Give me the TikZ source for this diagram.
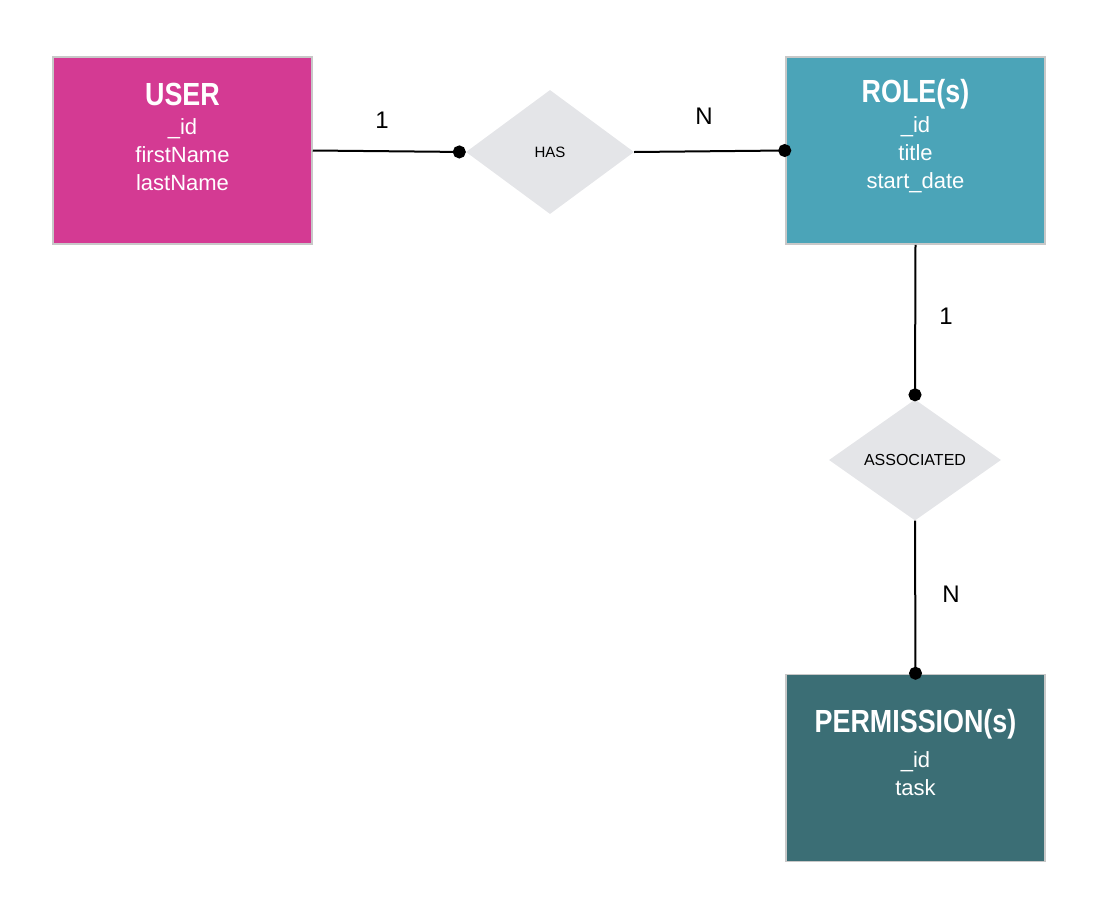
\documentclass[tikz,border=0pt]{standalone}
\usepackage{fontspec}
\setmainfont{Liberation Sans}
\newfontfamily\titlefont[FakeStretch=0.84]{Liberation Sans}
\usetikzlibrary{shapes.geometric,arrows.meta}
\definecolor{userpink}{HTML}{D43A93}
\definecolor{roleteal}{HTML}{4BA4B8}
\definecolor{permteal}{HTML}{3B6E75}
\definecolor{relgray}{HTML}{E4E5E8}
\definecolor{boxline}{HTML}{C8C8C8}
\tikzset{
  entity/.style={rectangle, draw=boxline, line width=1.5pt, minimum width=259pt, minimum height=187pt, inner sep=0pt},
  etitle/.style={text=white, font=\titlefont\fontsize{32}{32}\selectfont\bfseries},
  eattr/.style={text=white, align=center, font=\fontsize{22}{28}\selectfont},
  relation/.style={diamond, fill=relgray, inner sep=0pt, minimum width=168pt, minimum height=124pt},
  card/.style={font=\fontsize{24}{24}\selectfont},
  link/.style={line width=2pt, -{Circle[length=13pt]}}
}
\begin{document}
\begin{tikzpicture}[x=1pt,y=-1pt]
\useasboundingbox (0,0) rectangle (1104,924);
\node[entity, fill=userpink] (user) at (182.5,150.5){};
\node[etitle] (usertitle) at (182.5,94){USER};
\node[eattr] (userattr) at (182.5,155){\_id\\firstName\\lastName};
\node[entity, fill=roleteal] (role) at (915.5,150.5){};
\node[etitle] (roletitle) at (915.5,94){ROLE(s)};
\node[eattr] (roleattr) at (915.5,155){\_id\\title\\start\_date};
\node[entity, fill=permteal] (perm) at (915.5,768){};
\node[etitle] (permtitle) at (915.5,724){PERMISSION(s)};
\node[eattr] (permattr) at (915.5,774){\_id\\task};
\node[relation] (has) at (550,152){\fontsize{15}{15}\selectfont HAS};
\node[relation, minimum width=172pt, minimum height=121pt] (assoc) at (915,460){\fontsize{16}{16}\selectfont ASSOCIATED};
\draw[link](user.east) -- (has.west);
\draw[link, shorten >=-6pt](has.east) -- (role.west);
\draw[link, shorten >=-2pt](role.south) -- (assoc.north);
\draw[link, shorten >=-6pt](assoc.south) -- (perm.north);
\node[card] (c1) at (382,120){1};
\node[card] (c2) at (704,116){N};
\node[card] (c3) at (946,316){1};
\node[card] (c4) at (951,594){N};

\end{tikzpicture}
\end{document}
